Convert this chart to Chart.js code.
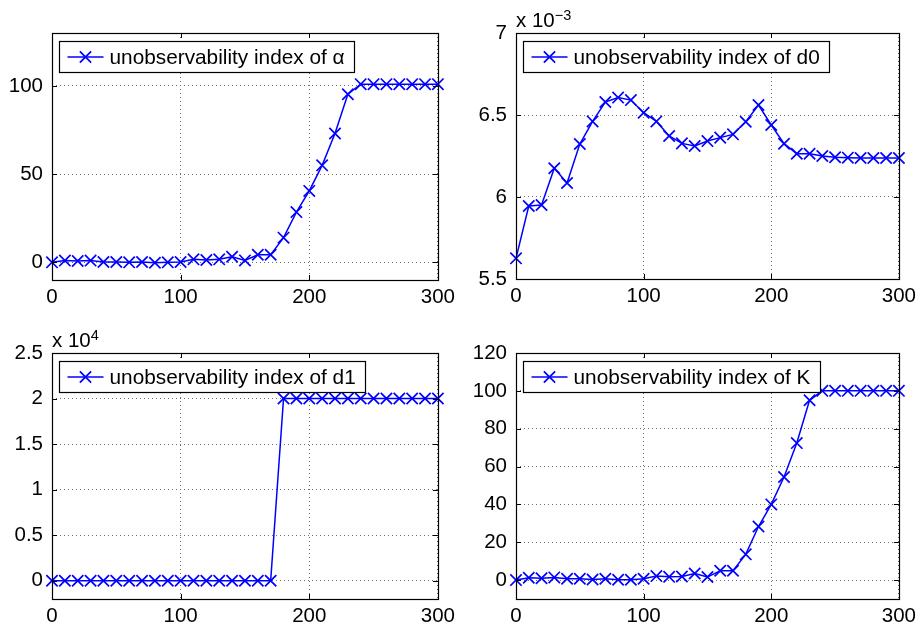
<!DOCTYPE html>
<html>
<head>
<meta charset="utf-8">
<title>Unobservability indices</title>
<script src="https://cdn.jsdelivr.net/npm/chart.js@4/dist/chart.umd.min.js"></script>
<style>
  body { margin: 0; background: #fff; }
  #figure { position: relative; width: 921px; height: 625px; }
  .panel { position: absolute; }
</style>
</head>
<body>
<div id="figure">
  <div class="panel" style="left:0px;top:0px"><canvas id="alphaChart" width="460" height="310"></canvas></div>
  <div class="panel" style="left:460px;top:0px"><canvas id="d0Chart" width="461" height="310"></canvas></div>
  <div class="panel" style="left:0px;top:310px"><canvas id="d1Chart" width="460" height="315"></canvas></div>
  <div class="panel" style="left:460px;top:310px"><canvas id="kChart" width="461" height="315"></canvas></div>
</div>
<script>
// sample steps shared by all four panels
const steps = [0, 10, 20, 30, 40, 50, 60, 70, 80, 90, 100, 110, 120, 130, 140, 150,
    160, 170, 180, 190, 200, 210, 220, 230, 240, 250, 260, 270, 280, 290, 300];

const alphaIndex = [0, 1, 0.8, 1, 0.2, 0.2, 0, 0.2, -0.2, 0, 0.2, 1.7, 1.3, 1.7, 3.2, 1.1,
    4.3, 4.3, 14, 28.5, 40.5, 55, 73, 95.3, 101, 101, 101, 101, 101, 101, 101];

const d0Index = [0.005626, 0.005945, 0.005951, 0.006175, 0.006085, 0.006323, 0.006461,
    0.006579, 0.006606, 0.006591, 0.006514, 0.006461, 0.006372, 0.006327, 0.006311,
    0.006341, 0.006362, 0.006382, 0.006459, 0.006561, 0.006439, 0.006325, 0.006264,
    0.006264, 0.00625, 0.006242, 0.00624, 0.006238, 0.006238, 0.006238, 0.006238];

const d1Index = [0, 0, 0, 0, 0, 0, 0, 0, 0, 0, 0, 0, 0, 0, 0, 0,
    0, 0, 20000, 20000, 20000, 20000, 20000, 20000, 20000, 20000, 20000, 20000, 20000, 20000, 20000];

const kIndex = [0, 1.2, 1, 1.4, 0.7, 0.7, 0.3, 0.7, 0.2, 0.2, 0.7, 2.1, 1.7, 1.9, 3.5, 1.6,
    4.9, 4.9, 13.6, 28.3, 40, 54.5, 72.4, 95, 100, 100, 100, 100, 100, 100, 100];

const xTicks = [0, 100, 200, 300];
const alphaTicks = [0, 50, 100];
const d0Ticks = [0.0055, 0.006, 0.0065, 0.007];
const d1Ticks = [0, 5000, 10000, 15000, 20000, 25000];
const kTicks = [0, 20, 40, 60, 80, 100, 120];

const FONT = "'Liberation Sans', Arial, Helvetica, sans-serif";
const BLUE = "#0000ff";
const MARKER_R = 8;

const drawCross = (ctx, x, y, r) => {
    const d = r * Math.SQRT1_2;
    ctx.beginPath();
    ctx.moveTo(x - d, y - d);
    ctx.lineTo(x + d, y + d);
    ctx.moveTo(x + d, y - d);
    ctx.lineTo(x - d, y + d);
    ctx.stroke();
};

// axes box, inward tick marks, exponent note and the boxed legend
const figurePlugin = {
    id: "figure",
    afterDatasetsDraw(chart, args, opts) {
        const { ctx, chartArea: a, scales } = chart;
        ctx.save();

        ctx.strokeStyle = "#000";
        ctx.lineWidth = 1;
        ctx.beginPath();
        for (const t of scales.x.ticks) {
            const px = Math.round(scales.x.getPixelForValue(t.value)) + 0.5;
            ctx.moveTo(px, a.bottom); ctx.lineTo(px, a.bottom - 5);
            ctx.moveTo(px, a.top); ctx.lineTo(px, a.top + 5);
        }
        for (const t of scales.y.ticks) {
            const py = Math.round(scales.y.getPixelForValue(t.value)) + 0.5;
            ctx.moveTo(a.left, py); ctx.lineTo(a.left + 5, py);
            ctx.moveTo(a.right, py); ctx.lineTo(a.right - 5, py);
        }
        ctx.stroke();
        ctx.lineWidth = 1.2;
        ctx.strokeRect(Math.round(a.left) + 0.5, Math.round(a.top) + 0.5,
            Math.round(a.right - a.left), Math.round(a.bottom - a.top));

        if (opts.exponent) {
            ctx.fillStyle = "#000";
            ctx.textBaseline = "alphabetic";
            ctx.textAlign = "left";
            ctx.font = `20.5px ${FONT}`;
            const base = "x 10";
            ctx.fillText(base, a.left, a.top - 6);
            const w = ctx.measureText(base).width;
            ctx.font = `14.5px ${FONT}`;
            ctx.fillText(opts.exponent, a.left + w, a.top - 13);
        }

        const label = chart.data.datasets[0].label;
        ctx.font = `20.8px ${FONT}`;
        const textW = ctx.measureText(label).width;
        const bx = Math.round(a.left + 7) + 0.5;
        const by = Math.round(a.top + 8) + 0.5;
        const bw = Math.round(textW + 60);
        const bh = 31;
        ctx.fillStyle = "#fff";
        ctx.fillRect(bx, by, bw, bh);
        ctx.strokeStyle = "#000";
        ctx.lineWidth = 1.2;
        ctx.strokeRect(bx, by, bw, bh);

        const my = by + bh / 2;
        ctx.strokeStyle = BLUE;
        ctx.lineWidth = 1.5;
        ctx.beginPath();
        ctx.moveTo(bx + 8, my);
        ctx.lineTo(bx + 44, my);
        ctx.stroke();
        ctx.lineWidth = 1.7;
        drawCross(ctx, bx + 26, my, MARKER_R);

        ctx.fillStyle = "#000";
        ctx.textAlign = "left";
        ctx.textBaseline = "middle";
        ctx.fillText(label, bx + 50, my + 1);
        ctx.restore();
    },
};

const makeChart = (canvasId, cfg) => {
    const points = steps.map((x, i) => ({ x, y: cfg.values[i] }));
    const tickFont = { family: FONT, size: 20.5 };
    return new Chart(document.getElementById(canvasId), {
        type: "line",
        data: {
            datasets: [{
                label: cfg.label,
                data: points,
                borderColor: BLUE,
                borderWidth: 1.5,
                pointStyle: "crossRot",
                pointRadius: MARKER_R,
                pointBorderColor: BLUE,
                pointBorderWidth: 1.7,
                tension: 0,
                clip: false,
            }],
        },
        options: {
            responsive: false,
            animation: false,
            events: [],
            layout: { padding: { top: cfg.padTop, right: cfg.padRight, left: 0, bottom: 0 } },
            plugins: {
                legend: { display: false },
                tooltip: { enabled: false },
                figure: { exponent: cfg.exponent },
            },
            scales: {
                x: {
                    type: "linear",
                    min: 0,
                    max: 300,
                    afterBuildTicks: (s) => { s.ticks = xTicks.map((v) => ({ value: v })); },
                    afterFit: (s) => { s.height = cfg.xHeight; },
                    grid: { color: "#6e6e6e", lineWidth: 1, drawTicks: false },
                    border: { display: false, dash: [1, 3] },
                    ticks: { font: tickFont, color: "#000", padding: 5, maxRotation: 0, autoSkip: false },
                },
                y: {
                    type: "linear",
                    min: cfg.yMin,
                    max: cfg.yMax,
                    afterBuildTicks: (s) => { s.ticks = cfg.yTicks.map((v) => ({ value: v })); },
                    afterFit: (s) => { s.width = cfg.yWidth; },
                    grid: { color: "#6e6e6e", lineWidth: 1, drawTicks: false },
                    border: { display: false, dash: [1, 3] },
                    ticks: {
                        font: tickFont,
                        color: "#000",
                        padding: 9,
                        autoSkip: false,
                        callback: (v) => String(Math.round(v / cfg.unit * 10) / 10),
                    },
                },
            },
        },
        plugins: [figurePlugin],
    });
};

makeChart("alphaChart", {
    label: "unobservability index of α", values: alphaIndex, yTicks: alphaTicks,
    yMin: -10, yMax: 130, unit: 1, exponent: null,
    padTop: 33, padRight: 22, yWidth: 52, xHeight: 30,
});
makeChart("d0Chart", {
    label: "unobservability index of d0", values: d0Index, yTicks: d0Ticks,
    yMin: 0.0055, yMax: 0.007, unit: 0.001, exponent: "\u22123",
    padTop: 33, padRight: 18, yWidth: 56, xHeight: 31,
});
makeChart("d1Chart", {
    label: "unobservability index of d1", values: d1Index, yTicks: d1Ticks,
    yMin: -2000, yMax: 25000, unit: 10000, exponent: "4",
    padTop: 43, padRight: 22, yWidth: 52, xHeight: 26,
});
makeChart("kChart", {
    label: "unobservability index of K", values: kIndex, yTicks: kTicks,
    yMin: -10, yMax: 120, unit: 1, exponent: null,
    padTop: 43, padRight: 18, yWidth: 56, xHeight: 26,
});
</script>
</body>
</html>
